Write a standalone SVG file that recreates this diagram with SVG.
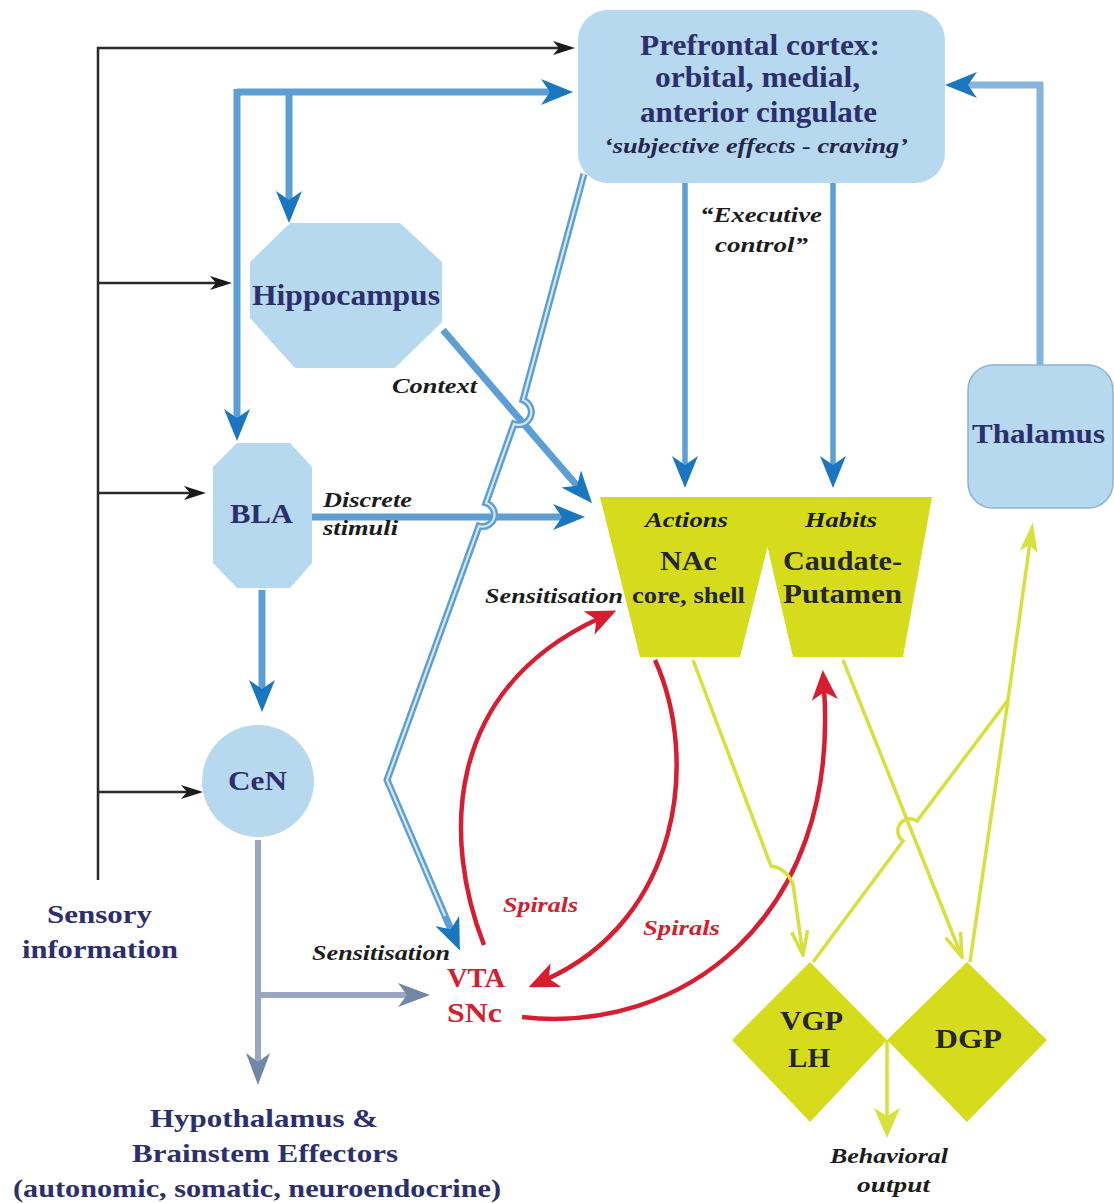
<svg xmlns="http://www.w3.org/2000/svg" width="1114" height="1203" viewBox="0 0 1114 1203">
<style>
.bg{fill:#ffffff}
.nodeBlue{fill:#b6d9ef}
.nodeYel{fill:#d6dc1c}
.t{font-family:"Liberation Serif","Times New Roman",serif;font-weight:bold}
.navy{fill:#2c2e6e}
.dark{fill:#26262e}
.lbl{font-family:"Liberation Serif","Times New Roman",serif;font-weight:bold;font-style:italic;fill:#1c1c1c}
.red{fill:#d3202f}
.ln-black{fill:none;stroke:#2a2a2a;stroke-width:2.5}
.ln-blue{fill:none;stroke:#5d9fd5;stroke-width:7}
.ln-blue2{fill:none;stroke:#5d9fd5;stroke-width:5.5}
.ln-thal{fill:none;stroke:#86b5dc;stroke-width:7}
.ln-white{fill:none;stroke:#d4eaf8;stroke-width:2.2}
.ln-gray{fill:none;stroke:#98a7bf;stroke-width:6}
.ln-red{fill:none;stroke:#d71e30;stroke-width:4.5}
.ln-yel{fill:none;stroke:#d7e03c;stroke-width:3.5}
</style>
<defs>
<marker id="mBlue" viewBox="0 0 32 26" refX="12" refY="13" markerWidth="32" markerHeight="26" markerUnits="userSpaceOnUse" orient="auto">
<path d="M0,0 L32,13 L0,26 L9,13 Z" fill="#1a76be"/>
</marker>
<marker id="mBlack" viewBox="0 0 22 14" refX="8" refY="7" markerWidth="22" markerHeight="14" markerUnits="userSpaceOnUse" orient="auto">
<path d="M0,0 L22,7 L0,14 L6,7 Z" fill="#1a1a1a"/>
</marker>
<marker id="mGray" viewBox="0 0 32 24" refX="12" refY="12" markerWidth="32" markerHeight="24" markerUnits="userSpaceOnUse" orient="auto">
<path d="M0,0 L32,12 L0,24 L9,12 Z" fill="#7286a6"/>
</marker>
<marker id="mRed" viewBox="0 0 30 26" refX="12" refY="13" markerWidth="30" markerHeight="26" markerUnits="userSpaceOnUse" orient="auto">
<path d="M0,0 L30,13 L0,26 L8,13 Z" fill="#d71e30"/>
</marker>
<marker id="mYelV" viewBox="0 0 28 20" refX="26" refY="10" markerWidth="28" markerHeight="20" markerUnits="userSpaceOnUse" orient="auto">
<path d="M2,2 L26,10 L2,18" fill="none" stroke="#d7e03c" stroke-width="3.5"/>
</marker>
<marker id="mYel" viewBox="0 0 30 18" refX="10" refY="9" markerWidth="30" markerHeight="18" markerUnits="userSpaceOnUse" orient="auto">
<path d="M0,0 L30,9 L0,18 L7,9 Z" fill="#d7e03c"/>
</marker>
<marker id="mYelBig" viewBox="0 0 30 26" refX="10" refY="13" markerWidth="30" markerHeight="26" markerUnits="userSpaceOnUse" orient="auto">
<path d="M0,0 L30,13 L0,26 L8,13 Z" fill="#d7e03c"/>
</marker>
</defs>
<rect class="bg" x="0" y="0" width="1114" height="1203"/>

<g id="connectors">
<path class="ln-black" d="M98,880 L98,48 L561,48" marker-end="url(#mBlack)"/>
<path class="ln-black" d="M98,283 L218,283" marker-end="url(#mBlack)"/>
<path class="ln-black" d="M98,493 L192,493" marker-end="url(#mBlack)"/>
<path class="ln-black" d="M98,792 L189,792" marker-end="url(#mBlack)"/>
<path class="ln-blue" d="M237,92 L553,92" marker-end="url(#mBlue)"/>
<path class="ln-blue" d="M237,89 L237,421" marker-end="url(#mBlue)"/>
<path class="ln-blue" d="M289,92 L289,203" marker-end="url(#mBlue)"/>
<path class="ln-blue" d="M443,330 L579,488" marker-end="url(#mBlue)"/>
<path class="ln-blue" d="M312,517 L565,517" marker-end="url(#mBlue)"/>
<path class="ln-blue" d="M262,590 L262,692" marker-end="url(#mBlue)"/>
<path class="ln-blue2" d="M685,183 L685,468" marker-end="url(#mBlue)"/>
<path class="ln-blue2" d="M833,183 L833,468" marker-end="url(#mBlue)"/>
<path class="ln-thal" d="M1040,365 L1040,85 L965,85" marker-end="url(#mBlue)"/>
<path class="ln-blue" d="M584,174 L523,400 A12,12 0 0 1 514,424 L486,503 A11,11 0 0 1 479,526 L387,780 L452,932" marker-end="url(#mBlue)"/>
<path class="ln-white" d="M584,174 L523,400 A12,12 0 0 1 514,424 L486,503 A11,11 0 0 1 479,526 L387,780 L445,916"/>
<path class="ln-gray" d="M258,840 L258,1065" marker-end="url(#mGray)"/>
<path class="ln-gray" d="M258,995 L410,995" marker-end="url(#mGray)"/>
<path class="ln-red" d="M484,945 C443,840 443,690 600,618" marker-end="url(#mRed)"/>
<path class="ln-red" d="M655,660 C700,760 680,920 545,980" marker-end="url(#mRed)"/>
<path class="ln-red" d="M522,1017 C680,1035 840,920 824,688" marker-end="url(#mRed)"/>
<path class="ln-yel" d="M693,660 L771,866 Q786,868 793,884 L803,955" marker-end="url(#mYelV)"/>
<path class="ln-yel" d="M843,660 L962,957" marker-end="url(#mYelV)"/>
<path class="ln-yel" d="M813,962 L903,841 A12,12 0 0 1 917,821 L1008,700 L1030,542" marker-end="url(#mYel)"/>
<path class="ln-yel" d="M970,962 L1008,700"/>
<path class="ln-yel" d="M887,1040 L887,1118" marker-end="url(#mYelBig)"/>
</g>

<g id="node-prefrontal">
<rect class="nodeBlue" x="578" y="10" width="367" height="173" rx="30"/>
<text class="t navy" x="640" y="55" font-size="29" textLength="240" lengthAdjust="spacingAndGlyphs">Prefrontal cortex:</text>
<text class="t navy" x="655" y="87" font-size="29" textLength="205" lengthAdjust="spacingAndGlyphs">orbital, medial,</text>
<text class="t navy" x="640" y="122" font-size="29" textLength="237" lengthAdjust="spacingAndGlyphs">anterior cingulate</text>
<text class="lbl" x="604" y="153" font-size="22" style="fill:#24264e" textLength="304" lengthAdjust="spacingAndGlyphs">‘subjective effects - craving’</text>
</g>

<g id="node-hippocampus">
<polygon class="nodeBlue" points="290,223 400,223 442,262 442,322 395,368 295,368 250,318 250,262"/>
<text class="t navy" x="252" y="305" font-size="29" textLength="188" lengthAdjust="spacingAndGlyphs">Hippocampus</text>
</g>

<g id="node-bla">
<polygon class="nodeBlue" points="237,443 290,443 312,467 312,563 290,588 237,588 213,563 213,467"/>
<text class="t navy" x="230" y="523" font-size="28" textLength="63" lengthAdjust="spacingAndGlyphs">BLA</text>
</g>

<g id="node-cen">
<circle class="nodeBlue" cx="258" cy="781" r="56"/>
<text class="t navy" x="228" y="790" font-size="27" textLength="59" lengthAdjust="spacingAndGlyphs">CeN</text>
</g>

<g id="node-thalamus">
<rect class="nodeBlue" x="968" y="365" width="145" height="143" rx="25" stroke="#8db2cf" stroke-width="1.5"/>
<text class="t navy" x="972" y="443" font-size="27" textLength="133" lengthAdjust="spacingAndGlyphs">Thalamus</text>
</g>

<g id="node-nac">
<polygon class="nodeYel" points="600,497 768,497 768,545 740,657 640,657"/>
<text class="lbl" x="645" y="527" font-size="21" textLength="83" lengthAdjust="spacingAndGlyphs">Actions</text>
<text class="t dark" x="660" y="570" font-size="28" textLength="57" lengthAdjust="spacingAndGlyphs">NAc</text>
<text class="t dark" x="632" y="603" font-size="24" textLength="113" lengthAdjust="spacingAndGlyphs">core, shell</text>
</g>

<g id="node-caudate">
<polygon class="nodeYel" points="767,497 932,497 903,657 793,657 767,545"/>
<text class="lbl" x="805" y="527" font-size="21" textLength="72" lengthAdjust="spacingAndGlyphs">Habits</text>
<text class="t dark" x="783" y="570" font-size="27" textLength="119" lengthAdjust="spacingAndGlyphs">Caudate-</text>
<text class="t dark" x="783" y="603" font-size="27" textLength="119" lengthAdjust="spacingAndGlyphs">Putamen</text>
</g>

<g id="node-vta">
<text class="t red" x="447" y="987" font-size="27" textLength="58" lengthAdjust="spacingAndGlyphs">VTA</text>
<text class="t red" x="447" y="1022" font-size="27" textLength="55" lengthAdjust="spacingAndGlyphs">SNc</text>
</g>

<g id="node-vgp">
<polygon class="nodeYel" points="732,1040 810,962 887,1040 810,1122"/>
<text class="t dark" x="780" y="1030" font-size="27" textLength="63" lengthAdjust="spacingAndGlyphs">VGP</text>
<text class="t dark" x="788" y="1067" font-size="27" textLength="42" lengthAdjust="spacingAndGlyphs">LH</text>
</g>

<g id="node-dgp">
<polygon class="nodeYel" points="887,1040 967,962 1047,1040 967,1122"/>
<text class="t dark" x="935" y="1048" font-size="27" textLength="67" lengthAdjust="spacingAndGlyphs">DGP</text>
</g>

<g id="node-sensory">
<text class="t navy" x="47" y="923" font-size="25" textLength="105" lengthAdjust="spacingAndGlyphs">Sensory</text>
<text class="t navy" x="22" y="958" font-size="25" textLength="156" lengthAdjust="spacingAndGlyphs">information</text>
</g>

<g id="node-hypothalamus">
<text class="t navy" x="150" y="1127" font-size="26" textLength="228" lengthAdjust="spacingAndGlyphs">Hypothalamus &amp;</text>
<text class="t navy" x="132" y="1162" font-size="26" textLength="266" lengthAdjust="spacingAndGlyphs">Brainstem Effectors</text>
<text class="t navy" x="13" y="1197" font-size="26" textLength="488" lengthAdjust="spacingAndGlyphs">(autonomic, somatic, neuroendocrine)</text>
</g>

<g id="node-behavior">
<text class="lbl" x="830" y="1163" font-size="21" textLength="118" lengthAdjust="spacingAndGlyphs">Behavioral</text>
<text class="lbl" x="857" y="1192" font-size="21" textLength="73" lengthAdjust="spacingAndGlyphs">output</text>
</g>

<g id="connector-labels">
<text class="lbl" x="392" y="393" font-size="21" textLength="85" lengthAdjust="spacingAndGlyphs">Context</text>
<text class="lbl" x="323" y="507" font-size="21" textLength="89" lengthAdjust="spacingAndGlyphs">Discrete</text>
<text class="lbl" x="323" y="535" font-size="21" textLength="75" lengthAdjust="spacingAndGlyphs">stimuli</text>
<text class="lbl" x="700" y="222" font-size="21" textLength="122" lengthAdjust="spacingAndGlyphs">“Executive</text>
<text class="lbl" x="715" y="252" font-size="21" textLength="93" lengthAdjust="spacingAndGlyphs">control”</text>
<text class="lbl" x="485" y="603" font-size="21" textLength="138" lengthAdjust="spacingAndGlyphs">Sensitisation</text>
<text class="lbl" x="312" y="960" font-size="21" textLength="138" lengthAdjust="spacingAndGlyphs">Sensitisation</text>
<text class="lbl red" x="503" y="912" font-size="21" textLength="75" lengthAdjust="spacingAndGlyphs">Spirals</text>
<text class="lbl red" x="643" y="935" font-size="21" textLength="77" lengthAdjust="spacingAndGlyphs">Spirals</text>
</g>
</svg>
